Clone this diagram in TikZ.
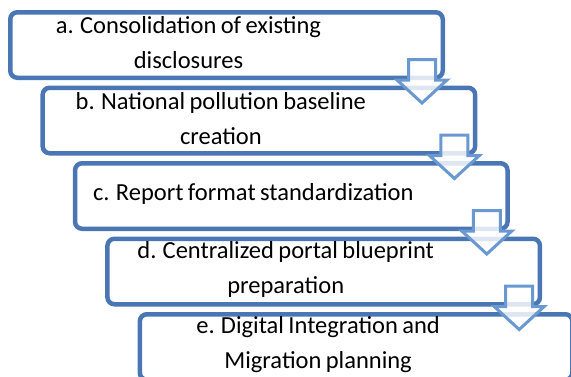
\documentclass[tikz,border=0pt]{standalone}
\usepackage{fontspec}
\setmainfont[WordSpace=0.8]{Carlito}
\usetikzlibrary{calc}
\definecolor{boxc}{HTML}{4A77B4}
\definecolor{arrc}{HTML}{6A99D1}
\begin{document}
\begin{tikzpicture}[x=1pt,y=-1pt,
  stepbox/.style={draw=boxc, line width=4.5pt, rounded corners=7pt, fill=white,
    minimum width=432.5pt, minimum height=65.5pt, inner sep=0pt},
  steptext/.style={font=\fontsize{24.5}{35}\selectfont, align=center, inner sep=0pt, text=black},
  blockarrow/.style={draw=arrc, line width=3pt, fill=white, fill opacity=0.82, line join=miter}]
\useasboundingbox (0,0) rectangle (571,376);
\node[stepbox] (a) at (226.5,45) {};
\node[stepbox] (b) at (258.9,120.5) {};
\node[stepbox] (c) at (291.3,196) {};
\node[stepbox] (d) at (323.7,271.5) {};
\node[stepbox] (e) at (356.1,347) {};
\node[steptext] (ta) at ($(a.center)+(-38,-2)$) {a. Consolidation of existing\\disclosures};
\node[steptext] (tb) at ($(b.center)+(-38,-2)$) {b. National pollution baseline\\creation};
\node[steptext] (tc) at ($(c.center)+(-38,-2)$) {c. Report format standardization};
\node[steptext] (td) at ($(d.center)+(-38,-2)$) {d. Centralized portal blueprint\\preparation};
\node[steptext] (te) at ($(e.center)+(-38,-2)$) {e. Digital Integration and\\Migration planning};
\foreach \s in {a,b,c,d}{
  \draw[blockarrow] ($(\s.center)+(182,14.5)$) -- ($(\s.center)+(209,14.5)$)
    -- ($(\s.center)+(209,35)$) -- ($(\s.center)+(220.5,35)$)
    -- ($(\s.center)+(195.5,58)$) -- ($(\s.center)+(170.5,35)$)
    -- ($(\s.center)+(182,35)$) -- cycle;
}
\end{tikzpicture}
\end{document}
